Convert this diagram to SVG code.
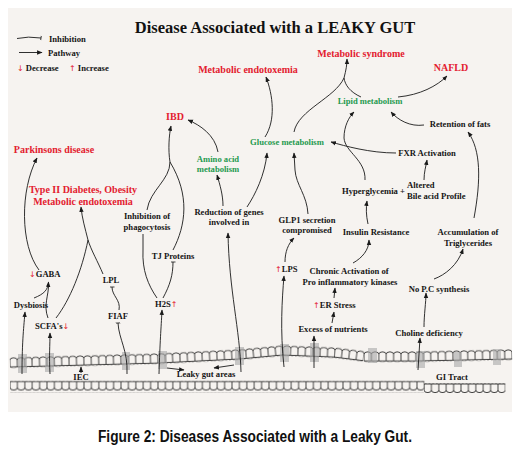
<svg xmlns="http://www.w3.org/2000/svg" width="522" height="463" viewBox="0 0 522 463">
<style>
.t{font-family:"Liberation Serif","Times New Roman",serif;font-weight:bold;font-size:8.6px;fill:#151515}
.r{fill:#e3202f;font-size:10px}
.g{fill:#1f9a4f}
.m{text-anchor:middle}
.ttl{font-size:16.5px;fill:#111}
.ua{font-family:"DejaVu Sans",sans-serif;font-weight:normal;fill:#e3202f;font-size:8px}
.c path{fill:none;stroke:#1a1a1a;stroke-width:0.9}
.leak{fill:#a8a8a8;opacity:0.6}
.cap{font-family:"Liberation Sans",Arial,sans-serif;font-weight:bold;font-size:16px;fill:#111}
</style>
<defs>
<marker id="ar" viewBox="0 0 10 10" refX="9" refY="5" markerWidth="5.5" markerHeight="5.5" orient="auto" markerUnits="userSpaceOnUse"><path d="M0,1 L10,5 L0,9 z" fill="#1a1a1a"/></marker>
<marker id="tb" viewBox="0 0 10 10" refX="5" refY="5" markerWidth="5" markerHeight="5" orient="auto" markerUnits="userSpaceOnUse"><path d="M5,0 L5,10" stroke="#1a1a1a" stroke-width="1.6"/></marker>
<pattern id="up" patternUnits="userSpaceOnUse" x="0" y="-10" width="7.4" height="11.5">
<path d="M0,10 V3.6 Q0,0.8 3.7,0.8 Q7.4,0.8 7.4,3.6 V10" fill="none" stroke="#1a1a1a" stroke-width="0.8"/>
<path d="M0,10 H7.4" stroke="#1a1a1a" stroke-width="0.8"/>
<path d="M1.8,10 V11.2 M5.5,10 V11.2" stroke="#1a1a1a" stroke-width="0.5"/>
</pattern>
<pattern id="dn" patternUnits="userSpaceOnUse" x="0" y="-1.5" width="7.4" height="12">
<path d="M0,1 V7 Q0,9.6 3.7,9.6 Q7.4,9.6 7.4,7 V1" fill="none" stroke="#1a1a1a" stroke-width="0.8"/>
<path d="M0,1 H7.4" stroke="#1a1a1a" stroke-width="0.8"/>
<path d="M1.8,0 V1 M5.5,0 V1" stroke="#1a1a1a" stroke-width="0.5"/>
</pattern>
</defs>

<rect x="0" y="0" width="522" height="463" fill="#ffffff"/>
<rect x="8" y="8" width="504" height="404" fill="#f6f3f0"/>

<!-- gut layers -->
<g id="gut-upper">
<g transform="translate(10,367) rotate(-1.53)"><rect x="0" y="-10" width="148" height="11.5" fill="url(#up)"/></g>
<g transform="translate(158,363) rotate(-2.86)"><rect x="0" y="-10" width="81.4" height="11.5" fill="url(#up)"/></g>
<g transform="translate(239,359) rotate(-5.31)"><rect x="0" y="-10" width="44.4" height="11.5" fill="url(#up)"/></g>
<g transform="translate(283,355) rotate(2.29)"><rect x="0" y="-10" width="51.8" height="11.5" fill="url(#up)"/></g>
<g transform="translate(334,357) rotate(7.13)"><rect x="0" y="-10" width="29.6" height="11.5" fill="url(#up)"/></g>
<g transform="translate(364,361)"><rect x="0" y="-10" width="51.8" height="11.5" fill="url(#up)"/></g>
<g transform="translate(416,361) rotate(-1.23)"><rect x="0" y="-10" width="96.2" height="11.5" fill="url(#up)"/></g>
</g>
<g id="gut-lower">
<g transform="translate(10,382)"><rect x="0" y="-1.5" width="414.4" height="12" fill="url(#dn)"/></g>
<g transform="translate(424,384.5)"><rect x="0" y="-1.5" width="81.4" height="12" fill="url(#dn)"/></g>
</g>
<g id="leaky-spots">
<rect class="leak" x="18" y="354" width="9" height="19"/>
<rect class="leak" x="45" y="353" width="9" height="19"/>
<rect class="leak" x="122" y="352" width="8" height="18"/>
<rect class="leak" x="158" y="351" width="9" height="18"/>
<rect class="leak" x="235" y="347" width="9" height="18"/>
<rect class="leak" x="280" y="344" width="9" height="18"/>
<rect class="leak" x="310" y="343" width="9" height="19"/>
<rect class="leak" x="368" y="348" width="9" height="15"/>
<rect class="leak" x="416" y="351" width="9" height="17"/>
<rect class="leak" x="454" y="352" width="8" height="15"/>
<rect class="leak" x="493" y="349" width="8" height="16"/>
</g>

<!-- title & legend -->
<g id="title"><text class="t ttl m" x="275" y="33">Disease Associated with a LEAKY GUT</text></g>
<g id="legend">
<path d="M17,38.5 Q28,36 41,38" fill="none" stroke="#1a1a1a" stroke-width="0.9" marker-end="url(#tb)"/>
<text class="t" x="49" y="42">Inhibition</text>
<path d="M19,52.5 L42,52.5" fill="none" stroke="#1a1a1a" stroke-width="0.9" marker-end="url(#ar)"/>
<text class="t" x="48" y="55.5">Pathway</text>
<text class="t" x="17" y="70.5"><tspan class="ua">↓</tspan> Decrease</text>
<text class="t" x="69" y="70.5"><tspan class="ua">↑</tspan> Increase</text>
</g>

<!-- connectors -->
<g id="connectors" class="c">
<path d="M22,374 C22,340 24,325 25,312" marker-end="url(#ar)"/>
<path d="M50,374 C49,355 50,345 50,333" marker-end="url(#ar)"/>
<path d="M127,374 C128,350 119,340 118,323" marker-end="url(#tb)"/>
<path d="M119,310 C121,300 112,296 112,287" marker-end="url(#tb)"/>
<path d="M159,374 C160,340 161,330 162,310" marker-end="url(#ar)"/>
<path d="M34,298 C44,294 48,290 48.5,282" marker-end="url(#ar)"/>
<path d="M48,318 C43,305 49,295 48.5,284"/>
<path d="M39,270 C20,245 20,190 37,158" marker-end="url(#ar)"/>
<path d="M56,318 C70,300 82,270 88,240"/>
<path d="M103,274 C98,262 91,250 88,240"/>
<path d="M88,240 C85,228 82,218 81,207" marker-end="url(#ar)"/>
<path d="M157,298 C148,285 142,270 143,250 L143,234"/>
<path d="M147,210 C150,190 170,180 170,162"/>
<path d="M163,298 C170,285 173,275 173,262" marker-end="url(#tb)"/>
<path d="M173,250 C186,225 190,195 170,162"/>
<path d="M170,162 C168,150 169,135 171,126" marker-end="url(#ar)"/>
<path d="M241,372 C240,330 229,290 228,233" marker-end="url(#ar)"/>
<path d="M223,206 C223,195 220,185 217,175" marker-end="url(#ar)"/>
<path d="M247,207 C255,195 265,175 267,153" marker-end="url(#ar)"/>
<path d="M218,152 C215,135 200,125 188,120" marker-end="url(#ar)"/>
<path d="M265,137 C276,120 273,95 266,77" marker-end="url(#ar)"/>
<path d="M294,132 C298,110 335,98 344,78 C346,70 347,65 347,59" marker-end="url(#ar)"/>
<path d="M361,97 C350,92 345,85 344,78"/>
<path d="M398,97 C420,95 437,86 447,76" marker-end="url(#ar)"/>
<path d="M424,125 C410,127 398,120 391,112" marker-end="url(#ar)"/>
<path d="M474,218 C481,180 481,150 468,132" marker-end="url(#ar)"/>
<path d="M396,153 C370,153 345,146 331,142" marker-end="url(#ar)"/>
<path d="M365,180 C366,160 345,152 344,138 C344,126 349,117 354,112" marker-end="url(#ar)"/>
<path d="M424,180 C424,172 426,166 427,160" marker-end="url(#ar)"/>
<path d="M368,224 C366,215 366,208 367,201" marker-end="url(#ar)"/>
<path d="M308,214 C307,195 296,185 295,170 L294,153" marker-end="url(#ar)"/>
<path d="M285,262 C285,252 288,244 294,238" marker-end="url(#ar)"/>
<path d="M284,367 C280,330 282,300 284,276" marker-end="url(#ar)"/>
<path d="M353,263 C362,258 369,250 369,240" marker-end="url(#ar)"/>
<path d="M334,298 L335,288" marker-end="url(#ar)"/>
<path d="M332,323 L334,312" marker-end="url(#ar)"/>
<path d="M314,368 L314,336" marker-end="url(#ar)"/>
<path d="M418,370 L420,338" marker-end="url(#ar)"/>
<path d="M424,327 C424,315 426,302 426,293" marker-end="url(#ar)"/>
<path d="M434,279 C445,275 458,265 463,249" marker-end="url(#ar)"/>
<path d="M167,368 L184,370" marker-end="url(#ar)"/>
<path d="M234,365 L214,368" marker-end="url(#ar)"/>
<path d="M81,373 L81,367" marker-end="url(#ar)"/>
</g>

<!-- nodes -->
<g id="metabolic-endotoxemia-top"><text class="t r m" x="248" y="73">Metabolic endotoxemia</text></g>
<g id="metabolic-syndrome"><text class="t r m" x="361" y="57">Metabolic syndrome</text></g>
<g id="nafld"><text class="t r m" x="451" y="70.5">NAFLD</text></g>
<g id="ibd"><text class="t r m" x="175" y="119.5">IBD</text></g>
<g id="parkinsons"><text class="t r m" x="54" y="153">Parkinsons disease</text></g>
<g id="type2-diabetes"><text class="t r m" x="83" y="193">Type II Diabetes, Obesity</text><text class="t r m" x="83" y="204.5">Metabolic endotoxemia</text></g>
<g id="lipid-metabolism"><text class="t g m" x="370" y="104">Lipid metabolism</text></g>
<g id="glucose-metabolism"><text class="t g m" x="287" y="145">Glucose metabolism</text></g>
<g id="amino-acid"><text class="t g m" x="218" y="162">Amino acid</text><text class="t g m" x="218" y="172">metabolism</text></g>
<g id="retention-fats"><text class="t m" x="460" y="127">Retention of fats</text></g>
<g id="fxr"><text class="t m" x="427" y="156">FXR Activation</text></g>
<g id="hyperglycemia"><text class="t" x="342" y="194">Hyperglycemia +</text></g>
<g id="bile-acid"><text class="t" x="407" y="188">Altered</text><text class="t" x="407" y="199">Bile acid Profile</text></g>
<g id="glp1"><text class="t m" x="307" y="223">GLP1 secretion</text><text class="t m" x="307" y="233">compromised</text></g>
<g id="insulin-resistance"><text class="t m" x="376" y="235">Insulin Resistance</text></g>
<g id="triglycerides"><text class="t m" x="468" y="235">Accumulation of</text><text class="t m" x="468" y="245.5">Triglycerides</text></g>
<g id="lps"><text class="t" x="275" y="272"><tspan class="ua">↑</tspan>LPS</text></g>
<g id="chronic-activation"><text class="t m" x="349" y="274">Chronic Activation of</text><text class="t m" x="350" y="285">Pro inflammatory kinases</text></g>
<g id="er-stress"><text class="t" x="313" y="308"><tspan class="ua">↑</tspan>ER Stress</text></g>
<g id="excess-nutrients"><text class="t m" x="333" y="332">Excess of nutrients</text></g>
<g id="no-pc"><text class="t m" x="439" y="292">No P.C synthesis</text></g>
<g id="choline"><text class="t m" x="429" y="336">Choline deficiency</text></g>
<g id="gi-tract"><text class="t m" x="452" y="380">GI Tract</text></g>
<g id="phagocytosis"><text class="t m" x="147" y="219">Inhibition of</text><text class="t m" x="147" y="230">phagocytosis</text></g>
<g id="reduction-genes"><text class="t m" x="229" y="215">Reduction of genes</text><text class="t m" x="229" y="225">involved in</text></g>
<g id="tj-proteins"><text class="t m" x="173" y="259">TJ Proteins</text></g>
<g id="gaba"><text class="t" x="29" y="277"><tspan class="ua">↓</tspan>GABA</text></g>
<g id="dysbiosis"><text class="t m" x="31" y="308">Dysbiosis</text></g>
<g id="scfa"><text class="t" x="35" y="329">SCFA's<tspan class="ua">↓</tspan></text></g>
<g id="lpl"><text class="t m" x="111" y="283">LPL</text></g>
<g id="fiaf"><text class="t m" x="118" y="319">FIAF</text></g>
<g id="h2s"><text class="t" x="155" y="307">H2S<tspan class="ua">↑</tspan></text></g>
<g id="iec"><text class="t m" x="81" y="380">IEC</text></g>
<g id="leaky-gut-areas"><text class="t m" x="206" y="377">Leaky gut areas</text></g>

<g id="caption"><text class="cap" x="98" y="442" textLength="314" lengthAdjust="spacingAndGlyphs">Figure 2: Diseases Associated with a Leaky Gut.</text></g>
</svg>
